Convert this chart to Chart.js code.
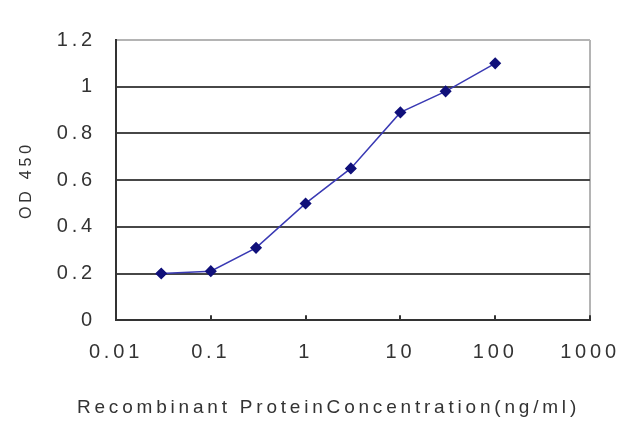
<!DOCTYPE html>
<html>
<head>
<meta charset="utf-8">
<script src="https://cdn.jsdelivr.net/npm/chart.js@4"></script>
<style>
  body { margin: 0; background: #fff; }
  canvas { display: block; }
</style>
</head>
<body>
<canvas id="odChart" width="640" height="427"></canvas>
<script>
    // concentration (ng/ml) and OD 450
    var concentrations = [0.03, 0.1, 0.3, 1, 3, 10, 30, 100];
    var od450 = [0.20, 0.21, 0.31, 0.50, 0.65, 0.89, 0.98, 1.10];

    var xTicks = [0.01, 0.1, 1, 10, 100, 1000];
    var xTickLabels = ["0.01", "0.1", "1", "10", "100", "1000"];
    var yTicks = [0, 0.2, 0.4, 0.6, 0.8, 1, 1.2];
    var yTickLabels = ["0", "0.2", "0.4", "0.6", "0.8", "1", "1.2"];

    var points = concentrations.map(function (c, i) {
        return { x: c, y: od450[i] };
    });

    // the old chart's text is spread out wide
    var spacing = {
        id: 'spacing',
        beforeLayout: function (chart) { chart.ctx.letterSpacing = '3.8px'; },
        beforeDraw: function (chart) { chart.ctx.letterSpacing = '3.8px'; }
    };

    var family = "'Liberation Sans', Arial, sans-serif";
    var tickFont = { family: family, size: 20 };

    var ctxL = document.getElementById("odChart").getContext('2d');
    var odChart = new Chart(ctxL, {
        type: 'line',
        data: {
            datasets: [{
                label: "OD 450",
                data: points,
                borderColor: '#3a3ab4',
                borderWidth: 1.5,
                pointStyle: 'rectRot',
                pointRadius: 5,
                pointBackgroundColor: '#10107a',
                pointBorderColor: '#10107a',
                tension: 0
            }]
        },
        options: {
            responsive: false,
            animation: false,
            devicePixelRatio: 1,
            layout: { padding: { left: 17, right: 0, top: 40, bottom: 4 } },
            plugins: {
                legend: { display: false },
                tooltip: { enabled: false },
                // x axis caption, centred on the whole picture like the original
                title: {
                    display: true,
                    position: 'bottom',
                    fullSize: true,
                    text: 'Recombinant ProteinConcentration(ng/ml)',
                    color: '#333',
                    font: { family: family, size: 19, weight: 'normal' },
                    padding: { top: 0, bottom: 4 }
                }
            },
            scales: {
                x: {
                    type: 'logarithmic',
                    min: 0.01,
                    max: 1000,
                    afterBuildTicks: function (scale) {
                        scale.ticks = xTicks.map(function (v) { return { value: v }; });
                    },
                    afterFit: function (scale) {
                        scale.height = 76;
                        scale.paddingLeft = 0;
                        scale.paddingRight = 0;
                    },
                    ticks: {
                        autoSkip: false,
                        maxRotation: 0,
                        color: '#333',
                        font: tickFont,
                        padding: 25,
                        callback: function (v, i) { return xTickLabels[i]; }
                    },
                    grid: {
                        color: function (c) {
                            return c.tick && c.tick.value === 1000 ? '#b4b4b4' : 'rgba(0,0,0,0)';
                        },
                        lineWidth: 2,
                        tickColor: '#333',
                        tickLength: -5,
                        tickWidth: 2
                    },
                    border: { color: '#333', width: 2 }
                },
                y: {
                    min: 0,
                    max: 1.2,
                    afterBuildTicks: function (scale) {
                        scale.ticks = yTicks.map(function (v) { return { value: v }; });
                    },
                    afterFit: function (scale) { scale.width = 116 - 17; },
                    ticks: {
                        color: '#333',
                        font: tickFont,
                        padding: 20,
                        callback: function (v, i) { return yTickLabels[i]; }
                    },
                    grid: {
                        color: function (c) {
                            return c.tick && c.tick.value === 1.2 ? '#b4b4b4' : '#474747';
                        },
                        lineWidth: 2,
                        drawTicks: false
                    },
                    border: { color: '#333', width: 2 },
                    title: {
                        display: true,
                        text: 'OD 450',
                        color: '#333',
                        font: { family: family, size: 16 },
                        padding: { top: 0, bottom: 0 }
                    }
                },
                // empty strip on the right, keeps the plot edge at the old place
                margin: {
                    position: 'right',
                    display: true,
                    afterFit: function (scale) { scale.width = 50; },
                    ticks: { display: false },
                    grid: { display: false },
                    border: { display: false }
                }
            }
        },
        plugins: [spacing]
    });
</script>
</body>
</html>
